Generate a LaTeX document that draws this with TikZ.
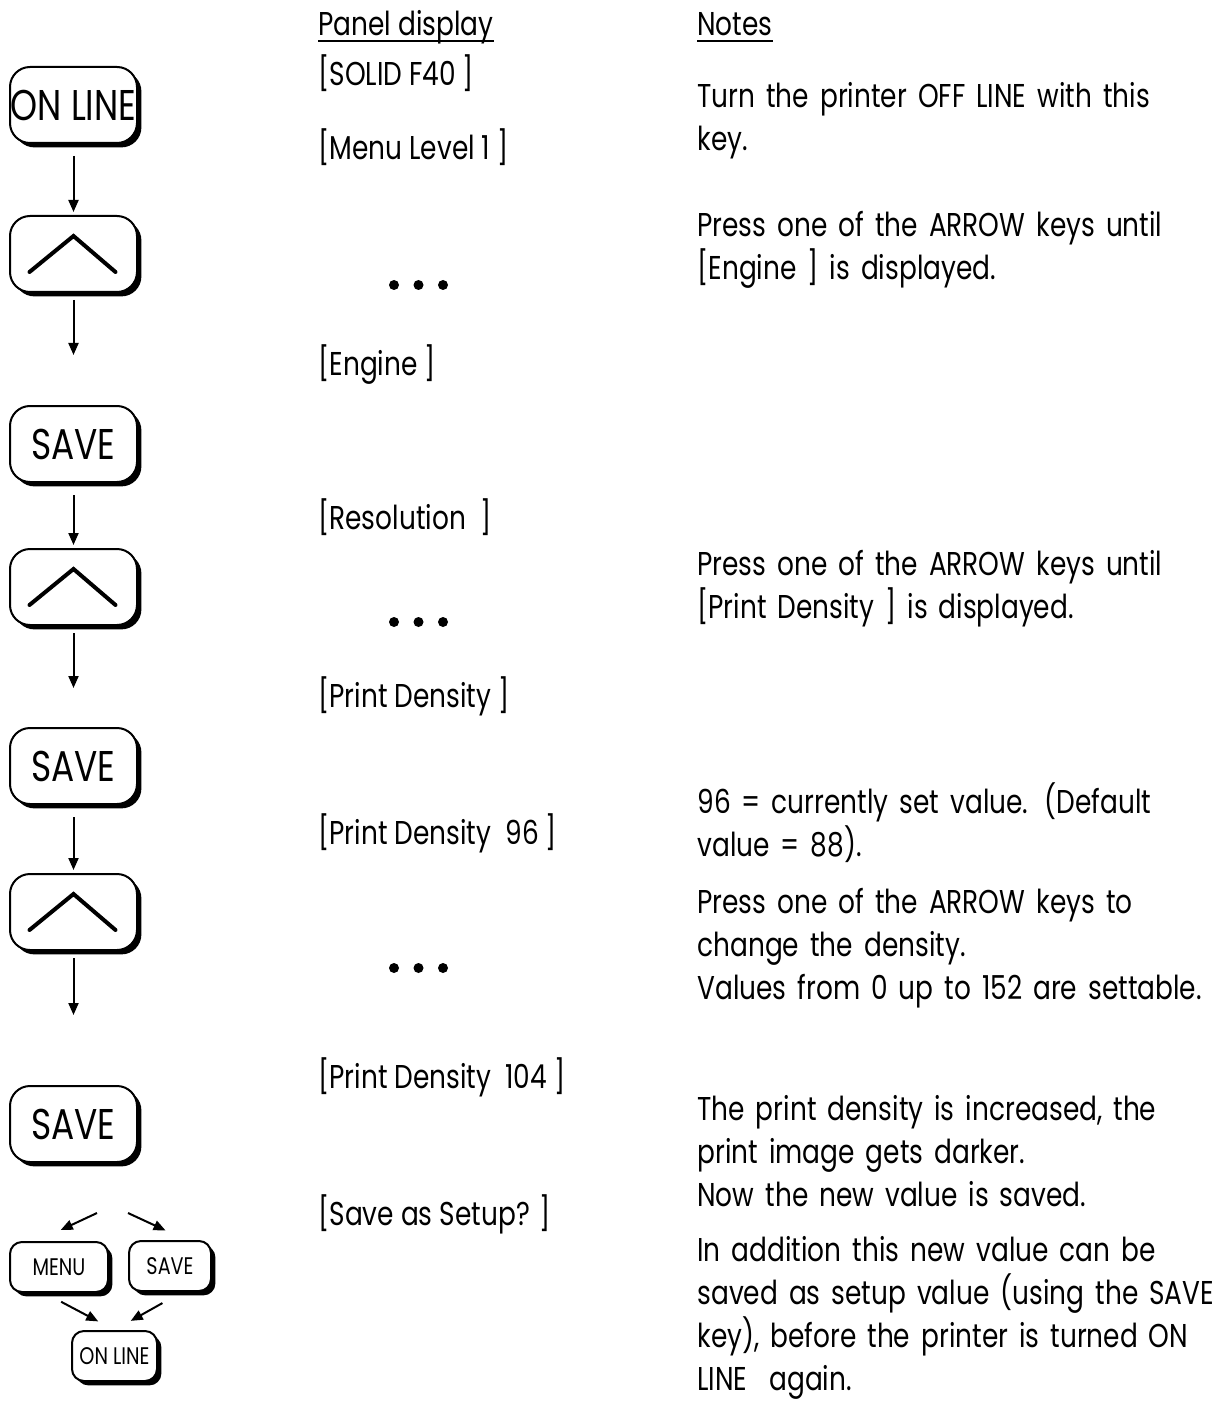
\documentclass[tikz,border=0pt]{standalone}
\usepackage{fontspec}
\setmainfont[FakeStretch=0.8]{Poppins}
\usepackage{tikz}
\usetikzlibrary{positioning,calc,shadows,arrows.meta}
\tikzset{
  key/.style={draw, fill=white, line width=1pt, rounded corners=10pt, inner sep=0pt,
              minimum width=63.5pt, minimum height=38pt, font=\fontsize{21.5}{24}\selectfont,
              drop shadow={shadow xshift=2.2pt, shadow yshift=-2.2pt, opacity=1, fill=black}},
  upkey/.style={key, path picture={\draw[sharp corners, line width=2pt, line cap=round]
              ([xshift=-22pt,yshift=-9pt]path picture bounding box.center) -- ++(22pt,18pt) -- ++(21pt,-18pt);}},
  minikey/.style={key, rounded corners=6pt, minimum height=25pt, font=\fontsize{12}{14}\selectfont},
  panel/.style={anchor=base west, inner sep=0pt, font=\fontsize{16.5}{21.5}\selectfont},
  note/.style={panel, text width=300pt, align=left},
  flow/.style={-{Triangle[length=6pt,width=5pt]}, line width=1pt},
}
\begin{document}
\begin{tikzpicture}[x=0.5pt, y=-0.5pt]
  \useasboundingbox (0,0) rectangle (1230,1401);
  \node[panel] (hp) at (318,36) {Panel display};
  \node[panel] (hn) at (697,36) {Notes};
  \foreach \h in {hp,hn} \draw[line width=0.9pt] ([yshift=-2.5pt]\h.base west) -- ([yshift=-2.5pt]\h.base east);

  \node[key] (k1) at (73.5,105) {\makebox[0pt]{ON LINE}};
  \node[upkey] (u1) at (73.5,254) {};
  \node[key] (s1) at (73.5,444) {SAVE};
  \node[upkey] (u2) at (73.5,587) {};
  \node[key] (s2) at (73.5,766) {SAVE};
  \node[upkey] (u3) at (73.5,912) {};
  \node[key] (s3) at (73.5,1124) {SAVE};
  \coordinate (e1) at (73.5,355);
  \coordinate (e2) at (73.5,688);
  \coordinate (e3) at (73.5,1015);
  \foreach \a/\b in {k1/u1,s1/u2,s2/u3} \draw[flow, shorten <=6pt, shorten >=1.5pt] (\a) -- (\b);
  \foreach \a/\b in {u1/e1,u2/e2,u3/e3} \draw[flow, shorten <=3.5pt] (\a) -- (\b);

  \node[minikey, minimum width=49pt] (mk) at (59,1267) {MENU};
  \node[minikey, minimum width=41pt] (sk) at (170,1266) {SAVE};
  \node[minikey, minimum width=42.5pt] (ok) at (114.5,1356) {\makebox[0pt]{ON LINE}};
  \coordinate (fl) at (97,1213);
  \coordinate (fr) at (128,1213);
  \draw[flow, shorten >=13pt] (fl) -- (mk.130);
  \draw[flow, shorten >=11.4pt] (fr) -- (sk.58);
  \draw[flow, shorten <=9.4pt, shorten >=9.2pt] (mk.-119) -- (ok.north);
  \draw[flow, shorten <=11.3pt, shorten >=9.3pt] (sk.-65) -- (ok.north);

  \node[panel] (d1) at (318,86) {[SOLID F40 ]};
  \node[panel] (d2) at (318,160) {[Menu Level 1 ]};
  \node[panel] (d3) at (318,375) {[Engine ]};
  \node[panel] (d4) at (318,529) {[Resolution\ \ ]};
  \node[panel] (d5) at (318,707) {[Print Density ]};
  \node[panel] (d6) at (318,844) {[Print Density\ \ 96 ]};
  \node[panel] (d7) at (318,1088) {[Print Density\ \ 104 ]};
  \node[panel] (d8) at (318,1225) {[Save as Setup? ]};
  \foreach \y in {285,622,968} \foreach \x in {394,418.5,443} \fill (\x,\y) circle (2.5pt);

  \node[note] (n1) at (697,108) {Turn the printer OFF LINE with this\\key.};
  \node[note] (n2) at (697,237) {Press one of the ARROW keys until\\{[}Engine ] is displayed.};
  \node[note] (n3) at (697,575) {Press one of the ARROW keys until\\{[}Print Density ] is displayed.};
  \node[note] (n4) at (697,813) {96 = currently set value. (Default\\value = 88).};
  \node[note] (n5) at (697,913) {Press one of the ARROW keys to\\change the density.\\Values from 0 up to 152 are settable.};
  \node[note] (n6) at (697,1120) {The print density is increased, the\\print image gets darker.\\Now the new value is saved.};
  \node[note] (n7) at (697,1261) {In addition this new value can be\\saved as setup value (using the SAVE\\key), before the printer is turned ON\\LINE\ \ again.};
\end{tikzpicture}
\end{document}
